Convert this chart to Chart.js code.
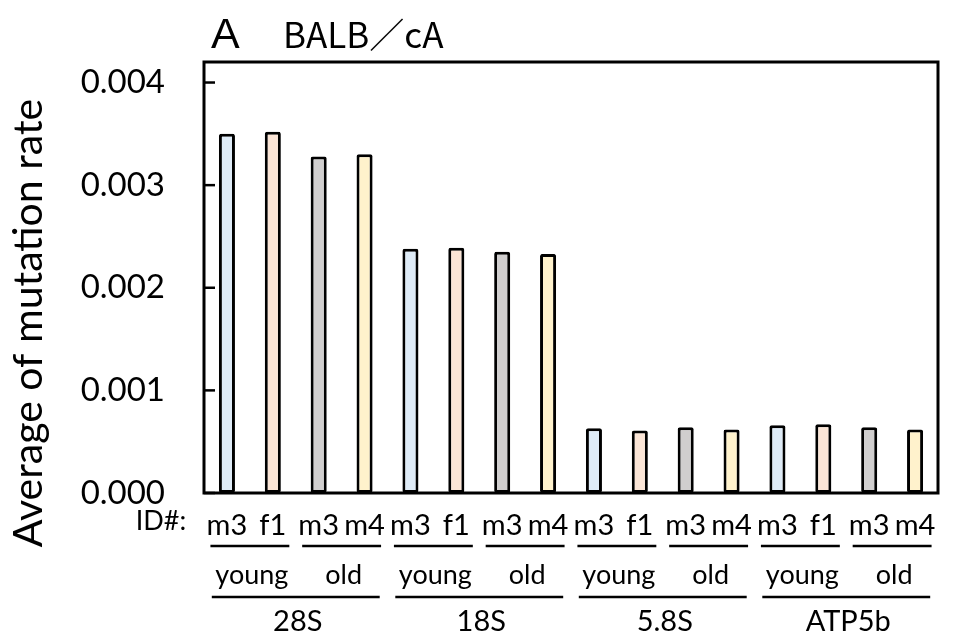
<!DOCTYPE html>
<html>
<head>
<meta charset="utf-8">
<script src="https://cdn.jsdelivr.net/npm/chart.js@4"></script>
<style>
  html, body { margin: 0; padding: 0; background: #fff; }
  canvas { display: block; }
</style>
</head>
<body>
<canvas id="rateChart" width="953" height="643"></canvas>
<script>
// genes and sample groups along the x axis
const genes = ['28S', '18S', '5.8S', 'ATP5b'];
const ageGroups = ['young', 'old'];
const sampleIds = ['m3', 'f1', 'm3', 'm4'];   // young: m3 f1, old: m3 m4

// average mutation rate per gene, one value per sample
const rate28S = [0.00350, 0.00352, 0.00328, 0.00330];
const rate18S = [0.00238, 0.00239, 0.00235, 0.00233];
const rate58S = [0.00063, 0.00061, 0.00064, 0.00062];
const rateATP5b = [0.00066, 0.00067, 0.00064, 0.00062];

const yTicks = [0, 0.001, 0.002, 0.003, 0.004];
const sampleColors = ['#DEEBF7', '#FBE5D6', '#D0CECE', '#FFF2CC'];

const labels = genes.flatMap(() => sampleIds);
const values = [...rate28S, ...rate18S, ...rate58S, ...rateATP5b];
const colors = genes.flatMap(() => sampleColors);

const FONT = "Lato, 'Open Sans', sans-serif";

const decorPlugin = {
    id: 'decor',
    afterDraw(chart) {
        const { ctx, chartArea: area, scales } = chart;
        const x = scales.x;
        const y = scales.y;
        ctx.save();

        // frame around the plot
        ctx.strokeStyle = '#000';
        ctx.lineWidth = 3;
        ctx.strokeRect(area.left, area.top, area.right - area.left, area.bottom - area.top);

        // inward ticks on the left axis
        ctx.lineWidth = 2.5;
        yTicks.forEach(v => {
            const py = y.getPixelForValue(v);
            ctx.beginPath();
            ctx.moveTo(area.left, py);
            ctx.lineTo(area.left + 11, py);
            ctx.stroke();
        });

        const slot = x.getPixelForValue(1) - x.getPixelForValue(0);
        ctx.fillStyle = '#000';
        ctx.textAlign = 'center';
        ctx.textBaseline = 'middle';
        ctx.lineWidth = 2.5;

        // age group underlines and names
        ctx.font = '27px ' + FONT;
        for (let g = 0; g < genes.length; g++) {
            ageGroups.forEach((age, a) => {
                const i = g * 4 + a * 2;
                const cx = (x.getPixelForValue(i) + x.getPixelForValue(i + 1)) / 2;
                const half = slot * 0.86;
                ctx.beginPath();
                ctx.moveTo(cx - half, 546);
                ctx.lineTo(cx + half, 546);
                ctx.stroke();
                ctx.fillText(age, cx + 2, 575);
            });
        }

        // gene underlines and names
        ctx.font = '29px ' + FONT;
        genes.forEach((gene, g) => {
            const cx = (x.getPixelForValue(g * 4) + x.getPixelForValue(g * 4 + 3)) / 2;
            const half = slot * 1.83;
            ctx.beginPath();
            ctx.moveTo(cx - half, 597);
            ctx.lineTo(cx + half, 597);
            ctx.stroke();
            ctx.fillText(gene, cx + 2, 622);
        });

        ctx.font = '27px ' + FONT;
        ctx.fillText('ID#:', 161, 521);

        // y axis title
        ctx.save();
        ctx.translate(29, 323);
        ctx.rotate(-Math.PI / 2);
        ctx.font = '41px ' + FONT;
        ctx.fillText('Average of mutation rate', 0, 0);
        ctx.restore();

        // panel title
        ctx.textAlign = 'left';
        ctx.textBaseline = 'alphabetic';
        ctx.font = "43px 'Liberation Sans', Arial, sans-serif";
        ctx.fillText('A', 211, 48);
        ctx.font = "35px 'Noto Sans CJK JP', sans-serif";
        ctx.fillText('BALB／cA', 283, 48);

        ctx.restore();
    }
};

new Chart(document.getElementById('rateChart'), {
    type: 'bar',
    data: {
        labels: labels,
        datasets: [{
            data: values,
            backgroundColor: colors,
            borderColor: '#000',
            borderWidth: 3,
            borderRadius: 2,
            borderSkipped: false,
            barPercentage: 0.35,
            categoryPercentage: 1.0
        }]
    },
    options: {
        responsive: false,
        animation: false,
        layout: { padding: { top: 62, right: 15, left: 0, bottom: 0 } },
        plugins: {
            legend: { display: false },
            tooltip: { enabled: false }
        },
        scales: {
            x: {
                grid: { display: false },
                border: { display: false },
                ticks: {
                    color: '#000',
                    font: { family: FONT, size: 29 },
                    padding: 7,
                    maxRotation: 0,
                    autoSkip: false
                },
                afterFit(scale) { scale.height = 150; }
            },
            y: {
                min: 0,
                max: 0.0042,
                grid: { display: false },
                border: { display: false },
                afterBuildTicks(scale) {
                    scale.ticks = yTicks.map(v => ({ value: v }));
                },
                ticks: {
                    color: '#000',
                    font: { family: FONT, size: 33 },
                    padding: 31,
                    callback: v => v.toFixed(3)
                },
                afterFit(scale) { scale.width = 204; }
            }
        }
    },
    plugins: [decorPlugin]
});
</script>
</body>
</html>
